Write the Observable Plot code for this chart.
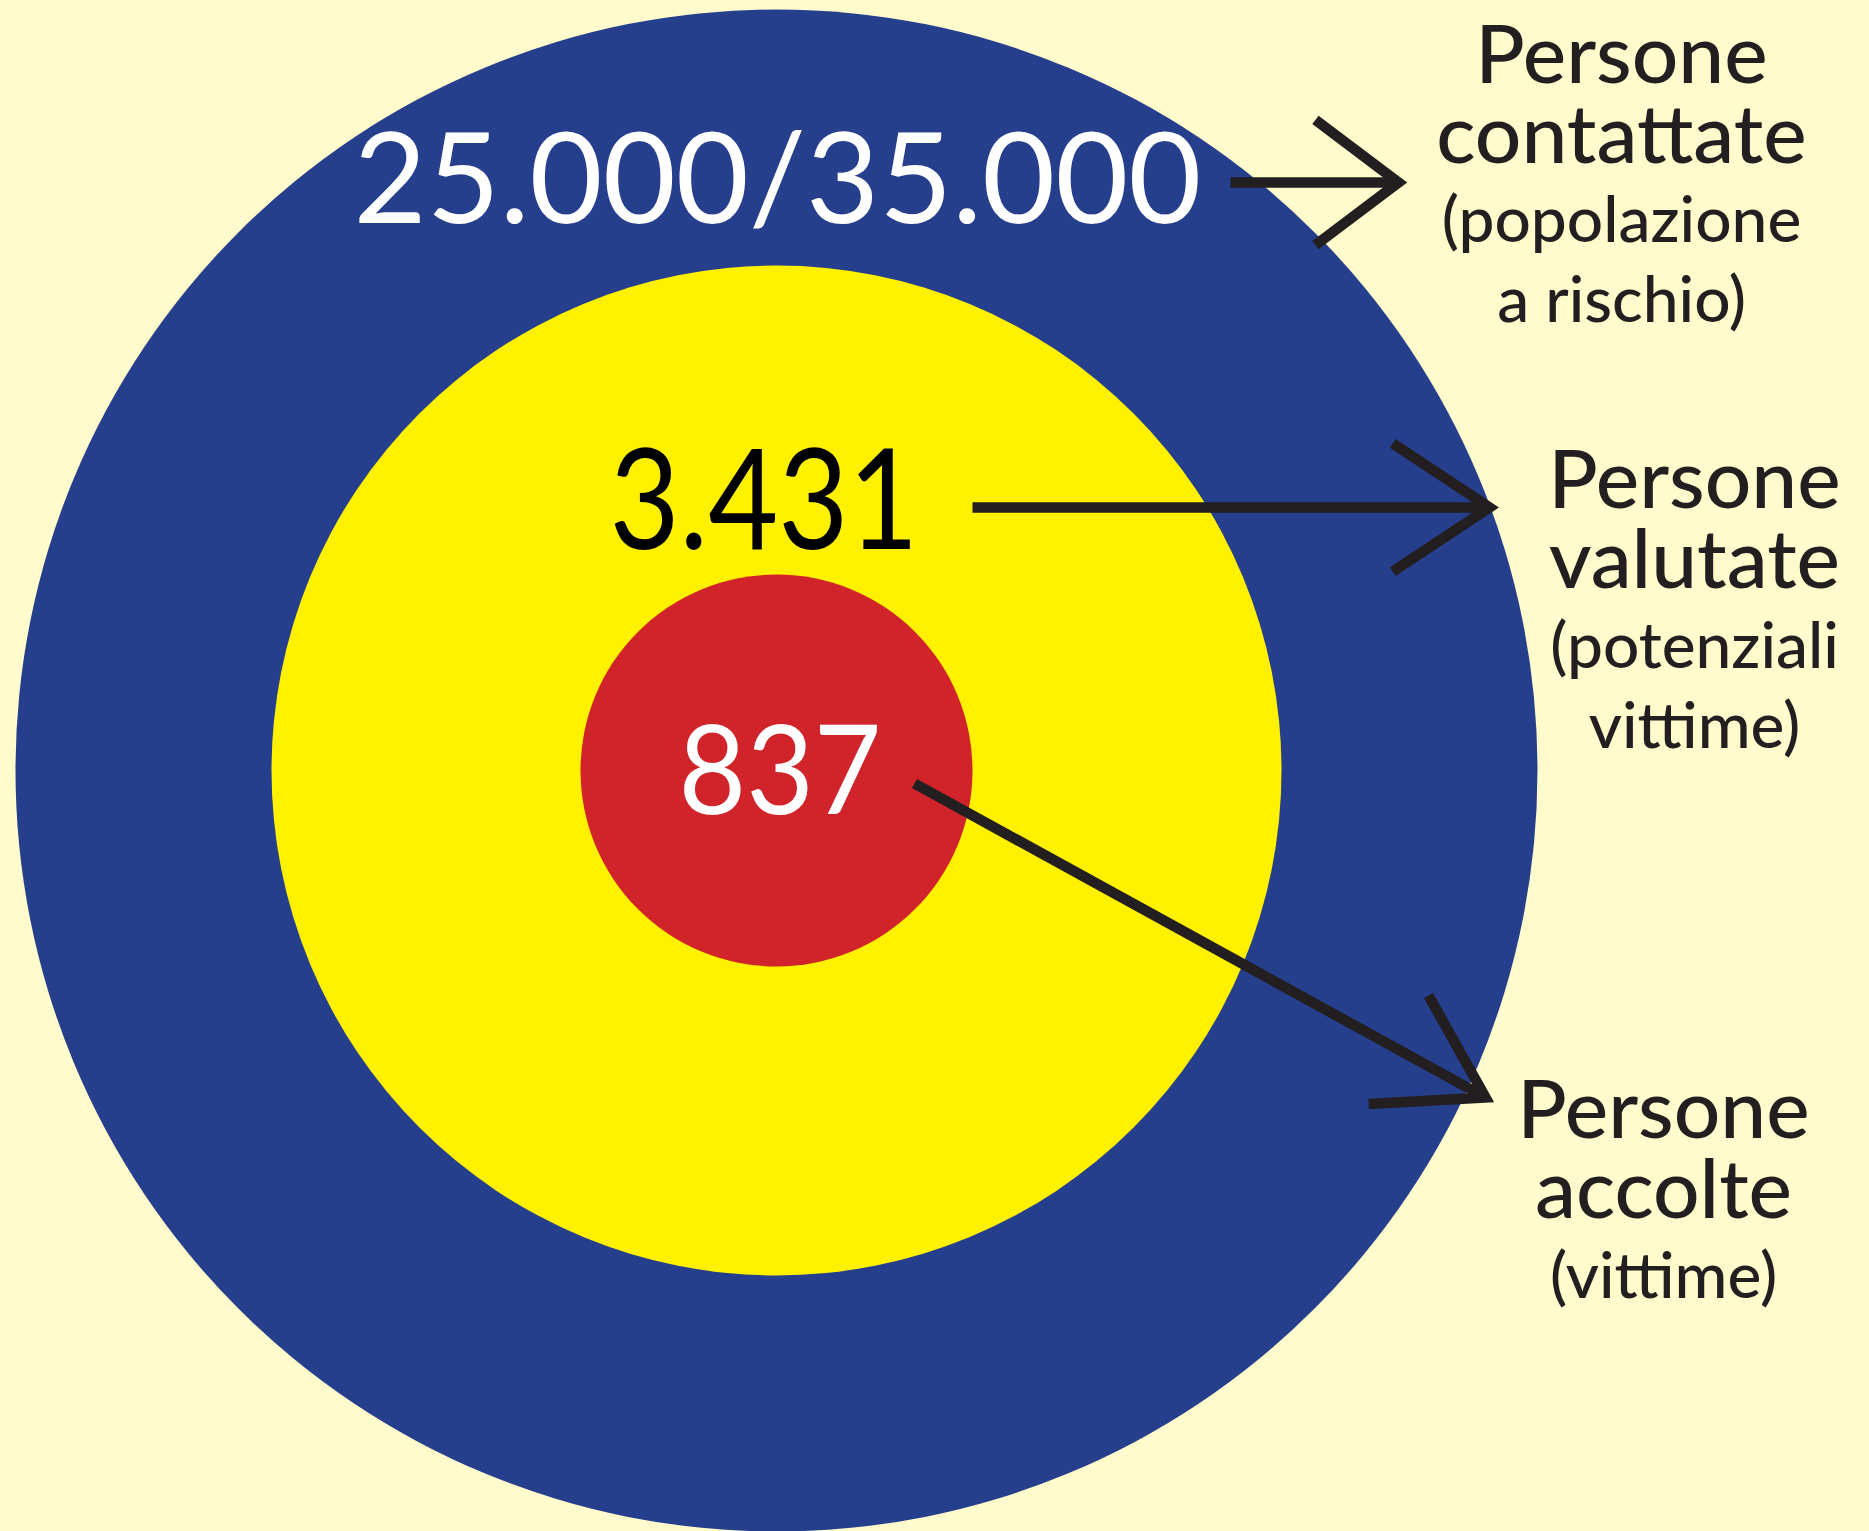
<!DOCTYPE html>
<html>
<head>
<meta charset="utf-8">
<script src="https://cdn.jsdelivr.net/npm/d3@7"></script>
<script src="https://cdn.jsdelivr.net/npm/@observablehq/plot@0.6"></script>
<style>
  html, body { margin: 0; padding: 0; background: #FFFBCC; overflow: hidden; }
  #chart svg { display: block; }
</style>
</head>
<body>
<div id="chart"></div>
<script>
// ---------------- DATA ----------------
const levels = ["contattate", "valutate", "accolte"];
const countLow = [25000, 3431, 837];
const countHigh = [35000, 3431, 837];
const titles = ["Persone\ncontattate", "Persone\nvalutate", "Persone\naccolte"];
const notes = ["(popolazione\na rischio)", "(potenziali\nvittime)", "(vittime)"];

// ---------------- STYLE & LAYOUT (pixels relative to the target centre) ----------------
const ink = "#231F20";
const ringColor = {contattate: "#263F8C", valutate: "#FFF100", accolte: "#D1232A"};
const ringRadius = {contattate: 761, valutate: 505, accolte: 196};
const countStyle = {
  contattate: {x: 1, y: -548, size: 126, width: 848, color: "#FFFFFF"},
  valutate:   {x: -12.5, y: -222, size: 139, width: 309, color: "#000000"},
  accolte:    {x: 3.5, y: 43, size: 125, width: 203, color: "#FFFFFF"}
};
const arrowLayout = {
  contattate: {from: [454, -588], to: [622, -588], head: 104, angle: 37},
  valutate:   {from: [196, -263], to: [713, -263], head: 116, angle: 33.5},
  accolte:    {from: [138, 13],   to: [709, 327],  head: 117, angle: 32}
};
const labelLayout = {
  contattate: {x: 845, title: -608, note: -449},
  valutate:   {x: 918, title: -183, note: -23},
  accolte:    {x: 887, title: 447, note: 527}
};

const fmt = d3.formatLocale({decimal: ",", thousands: ".", grouping: [3], currency: ["€", ""]}).format(",d");

const table = levels.map((level, i) => ({
  level,
  count: countLow[i] === countHigh[i] ? fmt(countLow[i]) : `${fmt(countLow[i])}/${fmt(countHigh[i])}`,
  title: titles[i],
  note: notes[i]
}));

const heads = table.flatMap(d => {
  const a = arrowLayout[d.level];
  const [x1, y1] = a.from, [x2, y2] = a.to;
  const back = Math.atan2(y1 - y2, x1 - x2);
  const h = a.angle * Math.PI / 180;
  return [
    {level: d.level, x: x2 + a.head * Math.cos(back + h), y: y2 + a.head * Math.sin(back + h)},
    {level: d.level, x: x2, y: y2},
    {level: d.level, x: x2 + a.head * Math.cos(back - h), y: y2 + a.head * Math.sin(back - h)}
  ];
});

const font = "Lato, 'Noto Sans', sans-serif";

const chart = Plot.plot({
  width: 1869,
  height: 1531,
  margin: 0,
  style: {background: "#FFFBCC", fontFamily: font},
  x: {domain: [-776, 1093], range: [0, 1869], axis: null},
  y: {domain: [-770, 761], range: [0, 1531], axis: null},
  r: {type: "linear", domain: [0, 761], range: [0, 761]},
  color: {type: "identity"},
  marks: [
    Plot.dot(table, {x: 0, y: 0, r: d => ringRadius[d.level], fill: d => ringColor[d.level], sort: null}),
    Plot.text(table, {
      x: d => countStyle[d.level].x, y: d => countStyle[d.level].y, text: "count",
      fill: d => countStyle[d.level].color, fontSize: d => countStyle[d.level].size,
      lineAnchor: "bottom", textAnchor: "middle", fontFamily: font, fontWeight: 400,
      className: "counts"
    }),
    Plot.link(table, {
      x1: d => arrowLayout[d.level].from[0], y1: d => arrowLayout[d.level].from[1],
      x2: d => arrowLayout[d.level].to[0], y2: d => arrowLayout[d.level].to[1],
      stroke: ink, strokeWidth: 10.5, strokeLinecap: "butt"
    }),
    Plot.line(heads, {
      x: "x", y: "y", z: "level", stroke: ink, strokeWidth: 10.5,
      strokeLinecap: "butt", strokeLinejoin: "miter", strokeMiterlimit: 10
    }),
    Plot.text(table, {
      x: d => labelLayout[d.level].x, y: d => labelLayout[d.level].title, text: "title",
      fill: ink, fontSize: 82, lineHeight: 80 / 82, lineAnchor: "bottom", textAnchor: "middle",
      fontFamily: font, fontWeight: 500
    }),
    Plot.text(table, {
      x: d => labelLayout[d.level].x, y: d => labelLayout[d.level].note, text: "note",
      fill: ink, fontSize: 64, lineHeight: 80 / 64, lineAnchor: "bottom", textAnchor: "middle",
      fontFamily: font, fontWeight: 500
    })
  ]
});

document.getElementById("chart").appendChild(chart);

// fit the big figures to the width they take in the original (narrow geometric digits)
d3.select(chart).selectAll(".counts text").each(function(i) {
  const w = countStyle[table[i].level].width;
  this.setAttribute("textLength", w);
  this.setAttribute("lengthAdjust", "spacingAndGlyphs");
});
</script>
</body>
</html>
